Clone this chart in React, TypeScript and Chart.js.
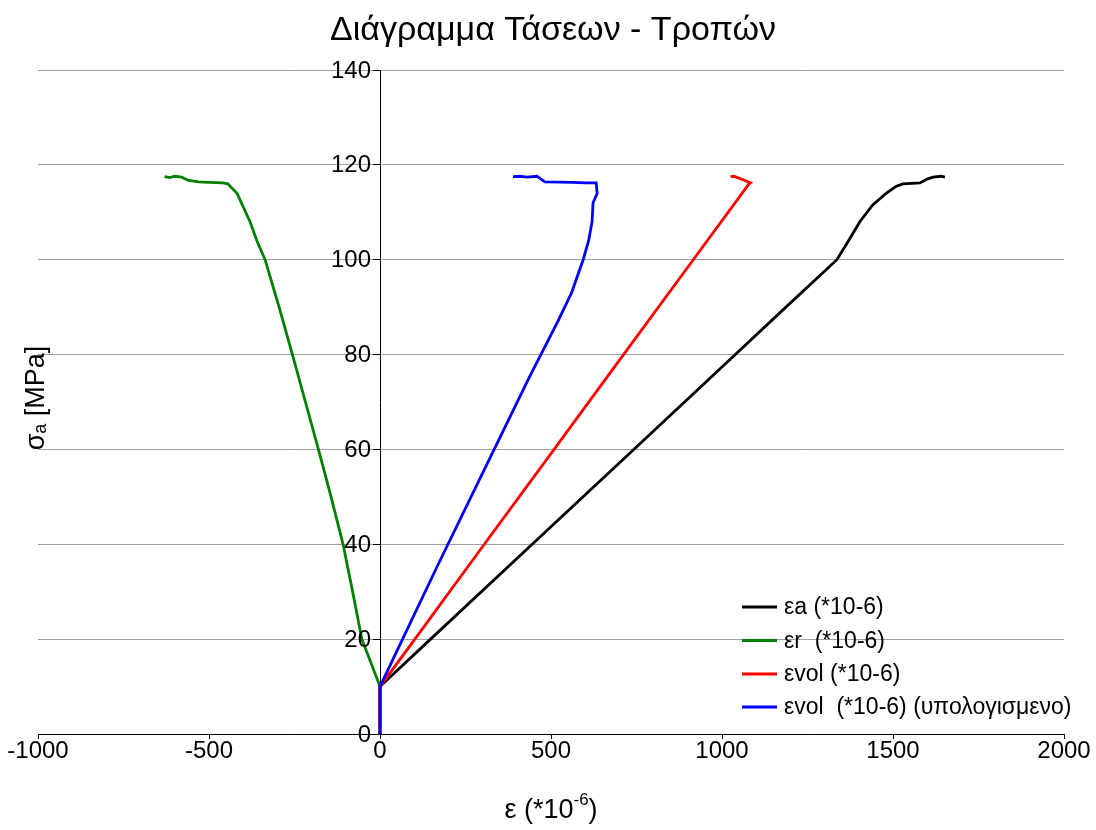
import React, { useEffect, useRef } from "react";
import { Chart, registerables } from "chart.js";

Chart.register(...registerables);

const CHART_TITLE = "Διάγραμμα Τάσεων - Τροπών";
const X_TITLE_MAIN = "ε (*10";
const X_TITLE_SUP = "-6";
const X_TITLE_END = ")";
const Y_TITLE_MAIN = "σ";
const Y_TITLE_SUB = "a";
const Y_TITLE_END = " [MPa]";

const X_MIN = -1000;
const X_MAX = 2000;
const X_STEP = 500;
const Y_MIN = 0;
const Y_MAX = 140;
const Y_STEP = 20;

const SERIES_LABELS = [
  "εa (*10-6)",
  "εr  (*10-6)",
  "εvol (*10-6)",
  "εvol  (*10-6) (υπολογισμενο)",
];
const SERIES_COLORS = ["#000000", "#008000", "#ff0000", "#0000ff"];

// εa
const EA_X = [0, 0, 148, 445, 742, 1039, 1172, 1336, 1370, 1403, 1440, 1480, 1510, 1529, 1579, 1600, 1617, 1640, 1652];
const EA_Y = [0, 10, 20, 40, 60, 80, 89, 100, 104, 108, 111.5, 114, 115.5, 116, 116.2, 117, 117.4, 117.6, 117.4];

// εr
const ER_X = [0, 0, -53, -80, -108, -143, -180, -218, -256, -295, -336, -360, -380, -418, -445, -460, -500, -530, -560, -580, -600, -615, -630];
const ER_Y = [0, 10, 20, 30, 40, 50, 60, 70, 80, 90, 100, 104, 108, 114, 116, 116.2, 116.3, 116.4, 116.7, 117.4, 117.6, 117.3, 117.5];

// εvol
const EV_X = [0, 0, 102, 305, 509, 712, 916, 1079, 1083, 1060, 1045, 1035, 1025];
const EV_Y = [0, 10, 20, 40, 60, 80, 100, 116, 116.2, 116.9, 117.3, 117.6, 117.5];

// εvol (υπολογισμενο)
const EC_X = [0, 0, 66, 165, 300, 435, 520, 560, 594, 610, 620, 623, 635, 632, 600, 564, 482, 459, 430, 410, 389];
const EC_Y = [0, 10, 20, 35, 55, 75, 87, 93, 100, 104, 108, 112, 114, 116.2, 116.2, 116.3, 116.4, 117.6, 117.4, 117.6, 117.5];

const FONT = "'Liberation Sans', Arial, sans-serif";

function pts(xs: number[], ys: number[]) {
  return xs.map((x, i) => ({ x, y: ys[i] }));
}

const overlayPlugin = {
  id: "overlay",
  afterDraw(chart: any) {
    const ctx = chart.ctx as CanvasRenderingContext2D;
    ctx.save();
    ctx.fillStyle = "#000";

    // Y tick labels (right aligned, left of the axis at x = 0)
    const xs = chart.scales.x;
    const ys = chart.scales.y;
    const axisX = xs.getPixelForValue(0);
    ctx.font = `24px ${FONT}`;
    ctx.textAlign = "right";
    ctx.textBaseline = "middle";
    ys.ticks.forEach((t: any) => {
      ctx.fillText(String(t.value), axisX - 9, ys.getPixelForValue(t.value) + 1);
    });

    // Title
    ctx.font = `34px ${FONT}`;
    ctx.textAlign = "center";
    ctx.textBaseline = "middle";
    ctx.fillText(CHART_TITLE, 553, 31);

    // X title with superscript
    ctx.textAlign = "left";
    ctx.textBaseline = "alphabetic";
    const mainFont = `27px ${FONT}`;
    const supFont = `17px ${FONT}`;
    ctx.font = mainFont;
    const w1 = ctx.measureText(X_TITLE_MAIN).width;
    const w3 = ctx.measureText(X_TITLE_END).width;
    ctx.font = supFont;
    const w2 = ctx.measureText(X_TITLE_SUP).width;
    const x0 = 551 - (w1 + w2 + w3) / 2;
    const base = 818;
    ctx.font = mainFont;
    ctx.fillText(X_TITLE_MAIN, x0, base);
    ctx.font = supFont;
    ctx.fillText(X_TITLE_SUP, x0 + w1, base - 13);
    ctx.font = mainFont;
    ctx.fillText(X_TITLE_END, x0 + w1 + w2, base);

    // Y title rotated with subscript
    ctx.save();
    ctx.translate(44, 398);
    ctx.rotate(-Math.PI / 2);
    const yMain = `27px ${FONT}`;
    const ySub = `18px ${FONT}`;
    ctx.font = yMain;
    const a1 = ctx.measureText(Y_TITLE_MAIN).width;
    const a3 = ctx.measureText(Y_TITLE_END).width;
    ctx.font = ySub;
    const a2 = ctx.measureText(Y_TITLE_SUB).width;
    const s = -(a1 + a2 + a3) / 2;
    ctx.font = yMain;
    ctx.fillText(Y_TITLE_MAIN, s, 0);
    ctx.font = ySub;
    ctx.fillText(Y_TITLE_SUB, s + a1, 2);
    ctx.font = yMain;
    ctx.fillText(Y_TITLE_END, s + a1 + a2, 0);
    ctx.restore();

    // Legend
    const rows = [607, 640.5, 674, 707];
    ctx.font = `23px ${FONT}`;
    ctx.textBaseline = "middle";
    ctx.textAlign = "left";
    chart.data.datasets.forEach((ds: any, i: number) => {
      const y = rows[i];
      ctx.strokeStyle = ds.borderColor;
      ctx.lineWidth = 3;
      ctx.beginPath();
      ctx.moveTo(742, y);
      ctx.lineTo(777, y);
      ctx.stroke();
      ctx.fillStyle = "#000";
      ctx.fillText(ds.label, 784, y + 1);
    });
    ctx.restore();
  },
};

export default function App() {
  const ref = useRef<HTMLCanvasElement | null>(null);
  useEffect(() => {
    document.body.style.margin = "0";
    const canvas = ref.current!;
    const series = [
      pts(EA_X, EA_Y),
      pts(ER_X, ER_Y),
      pts(EV_X, EV_Y),
      pts(EC_X, EC_Y),
    ];
    const chart = new Chart(canvas, {
      type: "scatter",
      data: {
        datasets: series.map((d, i) => ({
          label: SERIES_LABELS[i],
          data: d,
          showLine: true,
          borderColor: SERIES_COLORS[i],
          backgroundColor: SERIES_COLORS[i],
          borderWidth: 2.8,
          pointRadius: 0,
          tension: 0,
          order: 4 - i,
        })),
      },
      options: {
        animation: false,
        responsive: false,
        devicePixelRatio: 1,
        layout: { padding: { left: 38, right: 32, top: 70, bottom: 0 } },
        plugins: {
          legend: { display: false },
          title: { display: false },
          tooltip: { enabled: false },
        },
        scales: {
          x: {
            type: "linear",
            position: "bottom",
            min: X_MIN,
            max: X_MAX,
            afterFit: (scale: any) => {
              scale.height = 96;
            },
            ticks: {
              stepSize: X_STEP,
              color: "#000",
              font: { family: FONT, size: 24 },
              padding: -2,
              maxRotation: 0,
              callback: (v: any) => String(v),
            },
            grid: {
              display: true,
              drawOnChartArea: false,
              tickLength: 5,
              tickColor: "#000",
            },
            border: { color: "#000", width: 1 },
          },
          y: {
            type: "linear",
            position: { x: 0 } as any,
            min: Y_MIN,
            max: Y_MAX,
            ticks: {
              stepSize: Y_STEP,
              display: false,
            },
            grid: {
              color: "#a0a0a0",
              lineWidth: 1,
              tickLength: 7,
              tickColor: "#000",
            },
            border: { color: "#000", width: 1 },
          },
        },
      },
      plugins: [overlayPlugin],
    });
    return () => chart.destroy();
  }, []);
  return (
    <div style={{ position: "absolute", left: 0, top: 0, width: 1096, height: 830, background: "#fff" }}>
      <canvas ref={ref} width={1096} height={830} />
    </div>
  );
}
